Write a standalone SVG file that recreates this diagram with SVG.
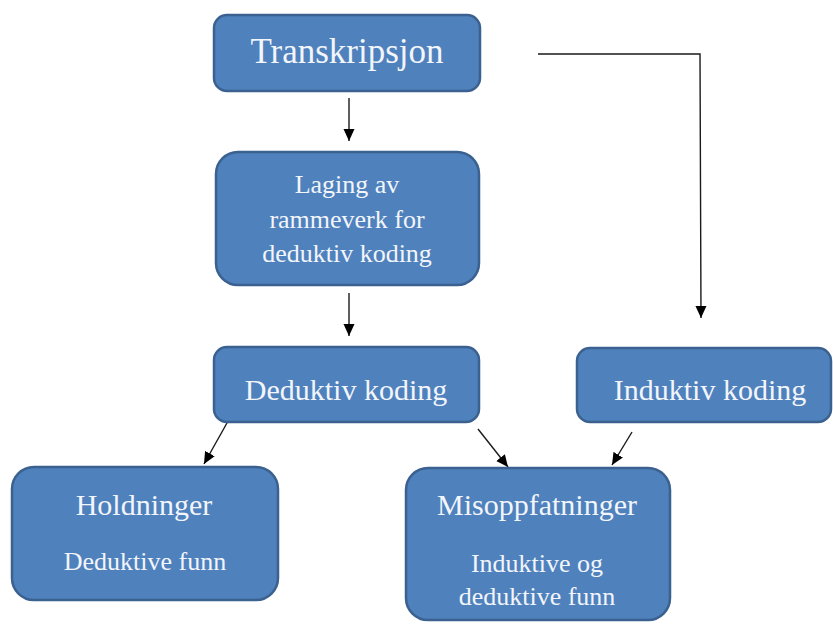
<svg xmlns="http://www.w3.org/2000/svg" width="833" height="624" viewBox="0 0 833 624">
<style>
.box{fill:#4F81BD;stroke:#3A6190;stroke-width:2.5}
.t{font-family:"Liberation Serif","Times New Roman",serif;fill:#F2F5FA;text-anchor:middle}
.c{stroke:#1a1a1a;stroke-width:1.4;fill:none}
</style>
<defs>
<marker id="ah" viewBox="0 0 12 12" refX="12" refY="6" markerWidth="12" markerHeight="12" markerUnits="userSpaceOnUse" orient="auto">
<path d="M0,0.5 L12,6 L0,11.5 z" fill="#000"/>
</marker>
</defs>
<rect width="833" height="624" fill="#fff"/>
<g id="connectors">
<line class="c" x1="349" y1="98" x2="349" y2="141" marker-end="url(#ah)"/>
<line class="c" x1="349" y1="293" x2="349" y2="336" marker-end="url(#ah)"/>
<line class="c" x1="232" y1="414" x2="204" y2="464" marker-end="url(#ah)"/>
<line class="c" x1="478" y1="429" x2="508" y2="467" marker-end="url(#ah)"/>
<line class="c" x1="632" y1="432" x2="612" y2="465" marker-end="url(#ah)"/>
<polyline class="c" points="538,54 700,54 701,318" marker-end="url(#ah)"/>
</g>
<g id="transkripsjon">
<rect class="box" x="214" y="15" width="266" height="76" rx="13"/>
<text class="t" x="347" y="63" font-size="35">Transkripsjon</text>
</g>
<g id="laging">
<rect class="box" x="216" y="152" width="263" height="133" rx="22"/>
<text class="t" font-size="26"><tspan x="347" y="193">Laging av</tspan><tspan x="347" y="228">rammeverk for</tspan><tspan x="347" y="262">deduktiv koding</tspan></text>
</g>
<g id="deduktiv">
<rect class="box" x="214" y="347" width="265" height="75" rx="13"/>
<text class="t" x="346" y="400" font-size="30">Deduktiv koding</text>
</g>
<g id="induktiv">
<rect class="box" x="577" y="348" width="254" height="74" rx="13"/>
<text class="t" x="710" y="400" font-size="30">Induktiv koding</text>
</g>
<g id="holdninger">
<rect class="box" x="12" y="467" width="266" height="133" rx="22"/>
<text class="t" x="144" y="515" font-size="30">Holdninger</text>
<text class="t" x="145" y="570" font-size="26">Deduktive funn</text>
</g>
<g id="misoppfatninger">
<rect class="box" x="406" y="468" width="264" height="152" rx="22"/>
<text class="t" x="537" y="515" font-size="30">Misoppfatninger</text>
<text class="t" font-size="26"><tspan x="537" y="572">Induktive og</tspan><tspan x="537" y="605">deduktive funn</tspan></text>
</g>
</svg>
